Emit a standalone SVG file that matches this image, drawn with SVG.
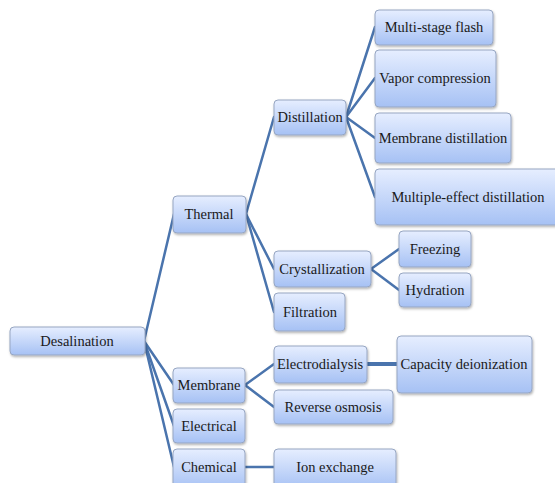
<svg xmlns="http://www.w3.org/2000/svg" width="555" height="483" viewBox="0 0 555 483">
  <defs>
    <linearGradient id="boxFill" x1="0" y1="0" x2="0" y2="1">
      <stop offset="0" stop-color="#e6eeff"/>
      <stop offset="1" stop-color="#a6c1f4"/>
    </linearGradient>
    <filter id="shadow" x="-10%" y="-10%" width="130%" height="140%">
      <feDropShadow dx="0.8" dy="1.5" stdDeviation="1" flood-color="#000" flood-opacity="0.3"/>
    </filter>
  </defs>
  <style>
    .box { fill: url(#boxFill); stroke: #97a6c2; stroke-width: 1; filter: url(#shadow); }
    .lbl { font-size: 14.5px; fill: #1a1a1a; text-anchor: middle; dominant-baseline: central; }
    .conn { stroke: #4a74ad; stroke-width: 2.5; fill: none; stroke-linecap: round; }
    .thick { stroke-width: 4; }
  </style>
  <rect width="555" height="483" fill="#ffffff"/>

  <!-- connectors -->
  <g id="connectors">
    <path class="conn" d="M144 341 L174 214"/>
    <path class="conn" d="M144 341 L174 385"/>
    <path class="conn" d="M144 341 L174 426"/>
    <path class="conn" d="M144 341 L174 467"/>
    <path class="conn" d="M246 214 L274 117"/>
    <path class="conn" d="M246 214 L274 269"/>
    <path class="conn" d="M246 214 L274 312"/>
    <path class="conn" d="M346 117 L375 27"/>
    <path class="conn" d="M346 117 L375 78"/>
    <path class="conn" d="M346 117 L375 138"/>
    <path class="conn" d="M346 117 L375 197"/>
    <path class="conn" d="M371 269 L399 249"/>
    <path class="conn" d="M371 269 L399 290"/>
    <path class="conn" d="M245 385 L274 364"/>
    <path class="conn" d="M245 385 L274 407"/>
    <path class="conn thick" d="M367 364 L397 364"/>
    <path class="conn" d="M245 467 L274 467"/>
  </g>

  <!-- nodes -->
  <g id="nodes" font-family="Liberation Serif, DejaVu Serif, serif">
  <g id="desalination"><rect class="box" x="10" y="327" width="135" height="28" rx="4"/><text class="lbl" x="77" y="341">Desalination</text></g>
  <g id="thermal"><rect class="box" x="173" y="196" width="73" height="37" rx="4"/><text class="lbl" x="209" y="214">Thermal</text></g>
  <g id="membrane"><rect class="box" x="173" y="368" width="72" height="35" rx="4"/><text class="lbl" x="209" y="385">Membrane</text></g>
  <g id="electrical"><rect class="box" x="173" y="409" width="72" height="34" rx="4"/><text class="lbl" x="209" y="426">Electrical</text></g>
  <g id="chemical"><rect class="box" x="173" y="449" width="72" height="40" rx="4"/><text class="lbl" x="209" y="467">Chemical</text></g>
  <g id="distillation"><rect class="box" x="274" y="100" width="72" height="35" rx="4"/><text class="lbl" x="310" y="117">Distillation</text></g>
  <g id="crystallization"><rect class="box" x="274" y="251" width="97" height="36" rx="4"/><text class="lbl" x="322" y="269">Crystallization</text></g>
  <g id="filtration"><rect class="box" x="274" y="293" width="71" height="38" rx="4"/><text class="lbl" x="310" y="312">Filtration</text></g>
  <g id="electrodialysis"><rect class="box" x="274" y="346" width="93" height="37" rx="4"/><text class="lbl" x="320" y="364">Electrodialysis</text></g>
  <g id="reverse-osmosis"><rect class="box" x="274" y="390" width="119" height="34" rx="4"/><text class="lbl" x="333" y="407">Reverse osmosis</text></g>
  <g id="ion-exchange"><rect class="box" x="274" y="449" width="122" height="40" rx="4"/><text class="lbl" x="335" y="467">Ion exchange</text></g>
  <g id="multi-stage-flash"><rect class="box" x="375" y="10" width="118" height="35" rx="4"/><text class="lbl" x="434" y="27">Multi-stage flash</text></g>
  <g id="vapor-compression"><rect class="box" x="375" y="50" width="121" height="57" rx="4"/><text class="lbl" x="435" y="78">Vapor compression</text></g>
  <g id="membrane-distillation"><rect class="box" x="375" y="113" width="136" height="50" rx="4"/><text class="lbl" x="443" y="138">Membrane distillation</text></g>
  <g id="multiple-effect-distillation"><rect class="box" x="375" y="169" width="190" height="56" rx="4"/><text class="lbl" x="468" y="197">Multiple-effect distillation</text></g>
  <g id="freezing"><rect class="box" x="399" y="231" width="72" height="36" rx="4"/><text class="lbl" x="435" y="249">Freezing</text></g>
  <g id="hydration"><rect class="box" x="399" y="273" width="72" height="34" rx="4"/><text class="lbl" x="435" y="290">Hydration</text></g>
  <g id="capacity-deionization"><rect class="box" x="397" y="336" width="135" height="57" rx="4"/><text class="lbl" x="464" y="364">Capacity deionization</text></g>
  </g>
</svg>
